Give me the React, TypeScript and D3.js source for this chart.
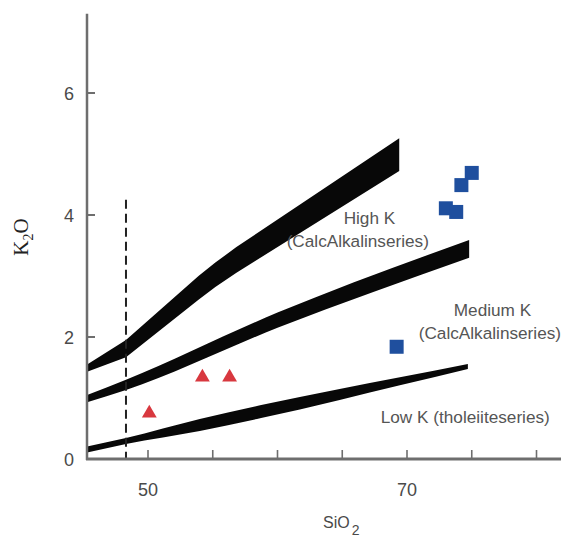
import React from "react";
import * as d3 from "d3";

// Band boundaries: [SiO2, upper K2O, lower K2O]
const highKBoundary: [number, number, number][] = [
  [45.3, 1.55, 1.43],
  [48.3, 1.95, 1.67],
  [53.9, 3.0, 2.61],
  [55.2, 3.22, 2.82],
  [56.8, 3.47, 3.05],
  [69.4, 5.26, 4.72],
];
const mediumKBoundary: [number, number, number][] = [
  [45.3, 1.05, 0.93],
  [48.3, 1.3, 1.13],
  [60, 2.4, 2.15],
  [74.8, 3.59, 3.3],
];
const lowKBoundary: [number, number, number][] = [
  [45.3, 0.205, 0.107],
  [48.3, 0.344, 0.246],
  [54.0, 0.657, 0.461],
  [58.65, 0.88, 0.667],
  [64.8, 1.149, 0.969],
  [69.45, 1.339, 1.208],
  [74.7, 1.557, 1.475],
];

const triangleSiO2 = [50.1, 54.2, 56.3];
const triangleK2O = [0.75, 1.34, 1.34];

const squareSiO2 = [75.0, 74.2, 73.0, 73.8, 69.2];
const squareK2O = [4.69, 4.49, 4.11, 4.05, 1.84];

const dashedSiO2 = 48.3;
const dashedTopK2O = 4.25;

const xTicks = [50, 55, 60, 65, 70, 75, 80];
const xTickLabels = [50, 70];
const yTicks = [0, 2, 4, 6];

const seriesLabelLines = [
  { text: "High K", x: 67.1, y: 3.95 },
  { text: "(CalcAlkalinseries)", x: 66.2, y: 3.57 },
  { text: "Medium K", x: 76.6, y: 2.44 },
  { text: "(CalcAlkalinseries)", x: 76.4, y: 2.06 },
  { text: "Low K (tholeiiteseries)", x: 74.5, y: 0.69 },
];

export default function App() {
  const W = 561;
  const H = 538;
  const x = d3.scaleLinear().domain([50, 70]).range([148, 407]);
  const y = d3.scaleLinear().domain([0, 6]).range([459, 93]);
  const x0 = 87;
  const xEnd = W;
  const yTop = y(7.3);
  const yBase = y(0);

  const areaWith = (curve: d3.CurveFactory) =>
    d3
      .area<[number, number, number]>()
      .x((d) => x(d[0]))
      .y0((d) => y(d[2]))
      .y1((d) => y(d[1]))
      .curve(curve);

  const bands: [[number, number, number][], d3.CurveFactory][] = [
    [highKBoundary, d3.curveLinear],
    [mediumKBoundary, d3.curveMonotoneX],
    [lowKBoundary, d3.curveMonotoneX],
  ];

  const tri = d3.symbol().type(d3.symbolTriangle).size(95);
  const axisColor = "#6e6e6e";
  const textColor = "#4a4a4a";
  const font = "'Liberation Sans', Arial, sans-serif";

  return (
    <svg
      width={W}
      height={H}
      style={{ position: "absolute", left: 0, top: 0, background: "#fff" }}
    >
      {bands.map(([b, c], i) => (
        <path key={i} d={areaWith(c)(b) || ""} fill="#080808" />
      ))}

      <line
        x1={x(dashedSiO2)}
        x2={x(dashedSiO2)}
        y1={y(dashedTopK2O)}
        y2={yBase}
        stroke="#222"
        strokeWidth={2}
        strokeDasharray="9,5"
      />

      {/* axes */}
      <line x1={x0} x2={x0} y1={yTop} y2={yBase + 1} stroke={axisColor} strokeWidth={2.5} />
      <line x1={x0 - 1} x2={xEnd} y1={yBase} y2={yBase} stroke={axisColor} strokeWidth={3} />
      {yTicks.map((t) => (
        <g key={"y" + t}>
          <line x1={x0} x2={x0 + 8} y1={y(t)} y2={y(t)} stroke={axisColor} strokeWidth={2} />
          <text
            x={74}
            y={y(t) + 6.5}
            textAnchor="end"
            fontFamily={font}
            fontSize={18}
            fill={textColor}
          >
            {t}
          </text>
        </g>
      ))}
      {xTicks.map((t) => (
        <line
          key={"x" + t}
          x1={x(t)}
          x2={x(t)}
          y1={yBase}
          y2={yBase - 9}
          stroke={axisColor}
          strokeWidth={1.6}
        />
      ))}
      {xTickLabels.map((t) => (
        <text
          key={"xl" + t}
          x={x(t)}
          y={496}
          textAnchor="middle"
          fontFamily={font}
          fontSize={18}
          fill={textColor}
        >
          {t}
        </text>
      ))}

      {/* axis titles */}
      <text x={323} y={528} fontFamily={font} fontSize={16} fill={textColor}>
        SiO
        <tspan dx={2} dy={7} fontSize={14}>
          2
        </tspan>
      </text>
      <text
        transform="translate(28,237) rotate(-90)"
        textAnchor="middle"
        fontFamily="'Liberation Serif', 'Times New Roman', serif"
        fontSize={21}
        fill="#222"
      >
        K
        <tspan dy={5} fontSize={14}>
          2
        </tspan>
        <tspan dy={-5}>O</tspan>
      </text>

      {/* series labels */}
      {seriesLabelLines.map((s, i) => (
        <text
          key={"s" + i}
          x={x(s.x)}
          y={y(s.y) + 6}
          textAnchor="middle"
          fontFamily={font}
          fontSize={17.2}
          fill="#555"
        >
          {s.text}
        </text>
      ))}

      {/* samples */}
      {triangleSiO2.map((s, i) => (
        <path
          key={"t" + i}
          d={tri() || ""}
          transform={`translate(${x(s)},${y(triangleK2O[i])})`}
          fill="#d8383f"
        />
      ))}
      {squareSiO2.map((s, i) => (
        <rect
          key={"q" + i}
          x={x(s) - 7}
          y={y(squareK2O[i]) - 7}
          width={14}
          height={14}
          fill="#1f4f9e"
        />
      ))}
    </svg>
  );
}
